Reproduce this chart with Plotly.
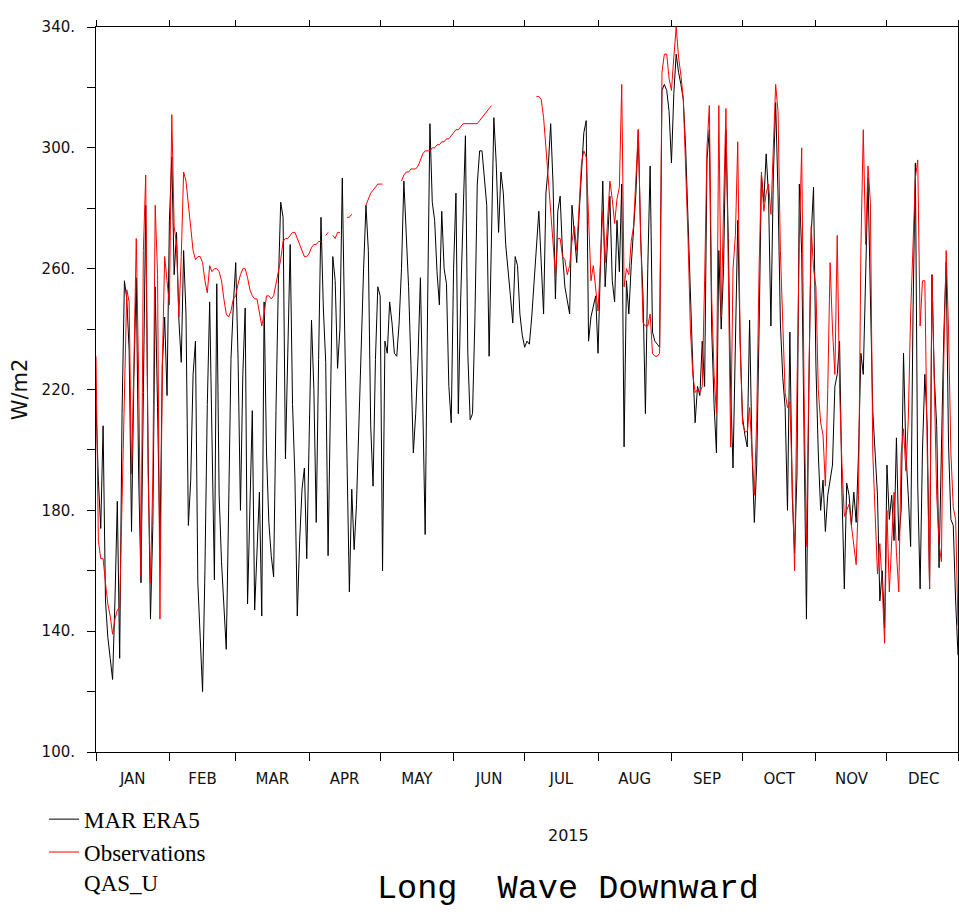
import plotly.graph_objects as go

# ---------------- data (daily values, 2015) ----------------
month_names = ["JAN", "FEB", "MAR", "APR", "MAY", "JUN",
               "JUL", "AUG", "SEP", "OCT", "NOV", "DEC"]
month_lengths = [31, 28, 31, 30, 31, 30, 31, 31, 30, 31, 30, 31]

era5 = [
    215, 190, 174, 208, 150, 138, 131, 124, 150, 183,
    131, 212, 256, 250, 233, 173, 224, 257, 192, 156,
    219, 281, 199, 144, 175, 254, 214, 167, 228, 244,
    218, 276, 297, 258, 272, 243, 229, 266, 245, 175,
    190, 225, 236, 156, 138, 120, 160, 215, 249, 200,
    157, 255, 185, 163, 150, 134, 180, 230, 248, 262,
    230, 180, 225, 247, 149, 180, 213, 147, 170, 186,
    145, 249, 199, 176, 165, 158, 213, 255, 282, 277,
    197, 230, 268, 215, 191, 145, 170, 187, 194, 164,
    200, 243, 220, 176, 230, 277, 247, 229, 165, 220,
    264, 256, 227, 240, 290, 240, 190, 153, 187, 167,
    182, 209, 236, 260, 281, 266, 208, 188, 230, 254,
    251, 160, 236, 232, 249, 242, 232, 231, 242, 260,
    289, 271, 254, 228, 199, 212, 231, 257, 215, 172,
    246, 308, 282, 276, 259, 248, 279, 260, 255, 221,
    209, 260, 285, 212, 250, 280, 304, 232, 210, 212,
    243, 288, 299, 299, 291, 281, 231, 268, 310, 295,
    272, 292, 285, 268, 258, 251, 242, 264, 261, 245,
    238, 234, 236, 235, 244, 256, 266, 279, 262, 245,
    285, 294, 308, 288, 250, 279, 284, 265, 254, 250,
    245, 281, 270, 262, 278, 294, 305, 309, 236, 244,
    248, 251, 232, 262, 289, 254, 271, 284, 256, 249,
    276, 259, 288, 201, 256, 245, 261, 272, 285, 306,
    270, 251, 212, 260, 294, 239, 236, 235, 234, 319,
    321, 319, 312, 295, 318, 331, 325, 321, 316, 300,
    275, 251, 228, 209, 221, 218, 236, 221, 296, 306,
    240, 215, 199, 266, 240, 260, 306, 270, 220, 194,
    242, 276, 236, 211, 205, 201, 243, 200, 176, 195,
    240, 291, 282, 298, 284, 241, 290, 315, 285, 242,
    224, 214, 180, 239, 185, 166, 192, 288, 265, 200,
    144, 219, 271, 287, 228, 199, 180, 190, 173, 185,
    190, 195, 221, 225, 236, 186, 154, 189, 185, 175,
    186, 176, 199, 232, 225, 259, 290, 251, 213, 199,
    185, 150, 160, 141, 195, 177, 185, 170, 204, 170,
    180, 232, 199, 185, 168, 245, 295, 188, 154, 200,
    225, 208, 154, 258, 224, 208, 161, 200, 238, 262,
    202, 177, 175, 150, 132,
]

N = None
observations = [
    231, 170, 164, 164, 156, 149, 145, 139, 144, 147,
    148, 185, 212, 253, 249, 192, 228, 270, 225, 158,
    266, 291, 192, 156, 191, 281, 258, 144, 228, 264,
    256, 248, 311, 274, 268, 244, 264, 292, 289, 282,
    275, 266, 263, 264, 264, 262, 256, 252, 261, 259,
    260, 260, 259, 256, 250, 245, 244, 246, 250, 251,
    255, 258, 260, 260, 257, 253, 251, 250, 250, 245,
    241, 245, 251, 251, 250, 251, 255, 259, 263, 269,
    270, 270, 271, 272, 272, 270, 268, 266, 264, 264,
    265, 267, 268, 268, 269, 269, N, 271, 272, N,
    271, 270, 272, 272, N, N, 277, 277, 278, N,
    N, N, N, N, 281, 283, 285, 286, 287, 288,
    288, 288, N, N, N, N, N, N, N, 289,
    291, 292, 292, 293, 293, 293, 294, 296, 298, 299,
    299, 299, 300, 300, 301, 301, 302, 302, 303, 303,
    304, 305, 306, 306, 307, 308, 308, 308, 308, 308,
    308, 308, 309, 310, 311, 312, 313, 314, N, N,
    N, N, N, N, N, N, N, N, N, N,
    N, N, N, N, N, N, 317, 317, 316, 310,
    300, 290, 280, 268, 258, 270, 270, 264, 263, 258,
    261, 269, 274, 266, 281, 295, 299, 297, 277, 256,
    261, 254, 246, 262, 279, 262, 278, 289, 283, 275,
    283, 287, 321, 254, 260, 258, 269, 274, 290, 306,
    271, 242, 241, 241, 245, 232, 231, 231, 232, 325,
    331, 331, 323, 319, 330, 340, 330, 324, 316, 295,
    270, 240, 225, 219, 220, 219, 221, 256, 300, 314,
    250, 225, 212, 314, 244, 280, 313, 260, 201, 260,
    271, 302, 236, 209, 206, 206, 214, 200, 185, 210,
    260, 292, 279, 285, 288, 278, 300, 321, 312, 266,
    242, 219, 214, 216, 190, 160, 220, 270, 300, 219,
    168, 226, 274, 260, 254, 220, 209, 205, 188, 220,
    262, 240, 225, 271, 220, 195, 178, 180, 182, 175,
    168, 162, 185, 267, 306, 268, 294, 282, 199, 179,
    159, 169, 155, 136, 180, 153, 170, 186, 166, 153,
    199, 207, 193, 210, 245, 270, 290, 296, 241, 256,
    256, 200, 154, 258, 224, 185, 169, 163, 230, 266,
    240, 199, 181, 177, 142,
]

y_ticks = [100, 140, 180, 220, 260, 300, 340]
y_ticktext = ["100.", "140.", "180.", "220.", "260.", "300.", "340."]
y_minor = [120, 160, 200, 240, 280, 320]

assert len(era5) == 365 and len(observations) == 365
days = list(range(365))

month_starts = [0]
for L in month_lengths:
    month_starts.append(month_starts[-1] + L)
month_starts[-1] = 364
month_mids = [month_starts[i] + month_lengths[i] / 2 for i in range(12)]

# ---------------- figure ----------------
fig = go.Figure()
fig.add_trace(go.Scatter(x=days, y=era5, mode="lines", name="MAR ERA5",
                         line=dict(color="black", width=1)))
fig.add_trace(go.Scatter(x=days, y=observations, mode="lines",
                         name="Observations<br>QAS_U",
                         line=dict(color="#ff0000", width=1), connectgaps=False))
fig.add_trace(go.Scatter(x=[0, 364], y=[None, None], xaxis="x2",
                         showlegend=False, hoverinfo="skip"))

tick_font = dict(family="DejaVu Sans", size=15, color="#111111")

fig.update_layout(
    width=959, height=912,
    margin=dict(l=96, r=1, t=27, b=160),
    paper_bgcolor="white", plot_bgcolor="white",
    showlegend=True,
    legend=dict(x=-0.0603, y=-0.063, xanchor="left", yanchor="top",
                font=dict(family="Liberation Serif", size=23, color="black"),
                bgcolor="rgba(0,0,0,0)", valign="top", tracegroupgap=0),
    xaxis=dict(range=[0, 364], tickmode="array", tickvals=month_mids,
               ticktext=month_names, ticks="", showline=True, linecolor="black",
               linewidth=1, mirror=True, showgrid=False, zeroline=False,
               tickfont=tick_font, ticklabelstandoff=13,
               minor=dict(tickmode="array", tickvals=month_starts, ticks="outside",
                          ticklen=8, tickcolor="black", tickwidth=1, showgrid=False)),
    xaxis2=dict(range=[0, 364], overlaying="x", side="top", tickmode="array",
                tickvals=month_starts, ticks="outside", ticklen=6, tickcolor="black",
                showticklabels=False, showline=False, showgrid=False, zeroline=False),
    yaxis=dict(range=[100, 340], tickmode="array", tickvals=y_ticks,
               ticktext=y_ticktext, ticks="outside", ticklen=8, tickcolor="black",
               showline=True, linecolor="black", linewidth=1, mirror=True,
               showgrid=False, zeroline=False, tickfont=tick_font,
               ticklabelstandoff=9,
               minor=dict(tickmode="array", tickvals=y_minor, ticks="outside",
                          ticklen=8, tickcolor="black", showgrid=False),
               title=dict(text="W/m2", standoff=8,
                          font=dict(family="DejaVu Sans", size=21, color="#111111"))),
    annotations=[
        dict(text="2015", xref="paper", yref="paper", x=0.5476, y=-0.1145,
             showarrow=False, xanchor="center", yanchor="middle",
             font=dict(family="DejaVu Sans", size=16, color="#111111")),
        dict(text="Long\u00a0 Wave Downward", xref="paper", yref="paper",
             x=0.5476, y=-0.189, showarrow=False, xanchor="center", yanchor="middle",
             font=dict(family="Liberation Mono", size=33.5, color="black")),
    ],
)

fig.write_html("out.html", config={"displayModeBar": False},
               post_script="document.body.style.margin='0';document.body.style.padding='0';")
